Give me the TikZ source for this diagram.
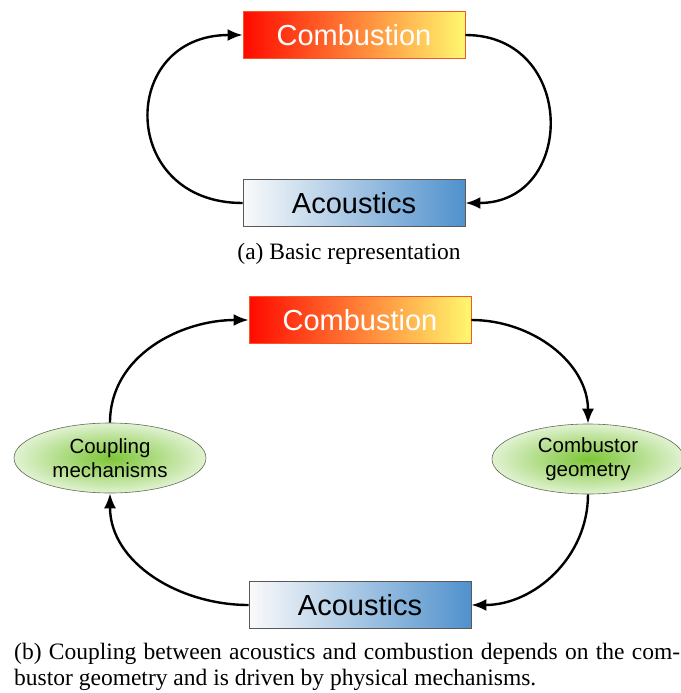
\documentclass[tikz,border=0pt]{standalone}
\usepackage{fontspec}
\setmainfont{Liberation Serif}
\setsansfont{Liberation Sans}
\usepackage{xcolor}
\usepackage{tikz}
\usetikzlibrary{shapes}
\usetikzlibrary{arrows.meta}
\usetikzlibrary{positioning}

\definecolor{flamered}{RGB}{255,10,0}
\definecolor{flameyellow}{RGB}{255,248,110}
\definecolor{flameedge}{RGB}{240,90,40}
\definecolor{soundwhite}{RGB}{250,250,250}
\definecolor{soundblue}{RGB}{80,145,205}
\definecolor{mechgreen}{RGB}{125,198,55}
\definecolor{mechpale}{RGB}{225,242,210}
\definecolor{mechedge}{RGB}{95,110,85}

\begin{document}
\begin{tikzpicture} [x=1pt, y=-1pt,
            % ----- Node definitions ----- %
            combnode/.style = {
                draw = flameedge,
                line width = 0.8pt,
                rectangle,
                minimum width = 222pt,
                minimum height = 47pt,
                inner sep = 0pt,
                left color = flamered,
                right color = flameyellow,
                text = white,
                font = \sffamily\fontsize{29}{32}\selectfont
            },
            acounode/.style = {
                draw = black!65,
                line width = 0.8pt,
                rectangle,
                minimum width = 222pt,
                minimum height = 47pt,
                inner sep = 0pt,
                left color = soundwhite,
                right color = soundblue,
                text = black,
                font = \sffamily\fontsize{29}{32}\selectfont
            },
            mechnode/.style = {
                draw = mechedge,
                line width = 0.6pt,
                ellipse,
                minimum width = 192pt,
                minimum height = 70pt,
                inner sep = 0pt,
                inner color = mechgreen,
                outer color = mechpale,
                align = center,
                font = \sffamily\fontsize{20.5}{24}\selectfont
            },
            captnode/.style = {
                inner sep = 0pt,
                font = \rmfamily\fontsize{23.5}{26}\selectfont
            },
            loopline/.style = {
                -{Latex[length=15pt, width=12pt]},
                line width = 2.4pt
            },
    ]
    \useasboundingbox (0,0) rectangle (680,693);

            % ----- Node constructions ----- %
        % (a)
        \node [combnode] (combA) at (354,35) {Combustion};
        \node [acounode] (acouA) at (354,203) {Acoustics};
        \node [captnode] (captA) at (349,254) {(a) Basic representation};

        % (b)
        \node [combnode] (combB) at (360,320) {Combustion};
        \node [acounode] (acouB) at (360,605) {Acoustics};
        \node [mechnode] (coupling) at (110,458) {Coupling\\mechanisms};
        \node [mechnode] (geometry) at (588,459) {Combustor\\geometry};
        \node [captnode, anchor=north west, text width=666pt, align=justify] (captB) at (14,643)
            {(b) Coupling between acoustics and combustion depends on the com-\linebreak bustor geometry and is driven by physical mechanisms.};

            % ----- Connections ----- %
        \draw [loopline] (acouA.west) to[out=180, in=180, looseness=1.9] (combA.west);
        \draw [loopline] (combA.east) to[out=0, in=0, looseness=1.7] (acouA.east);

        \draw [loopline] (coupling.north) to[out=90, in=180] (combB.west);
        \draw [loopline] (combB.east) to[out=0, in=90] (geometry.north);
        \draw [loopline] (geometry.south) to[out=-90, in=0] (acouB.east);
        \draw [loopline] (acouB.west) to[out=180, in=-90] (coupling.south);

\end{tikzpicture}
\end{document}
